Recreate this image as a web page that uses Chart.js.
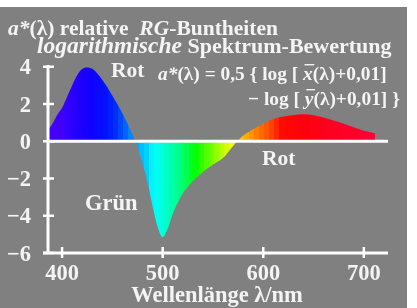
<!DOCTYPE html>
<html>
<head>
<meta charset="utf-8">
<script src="https://cdn.jsdelivr.net/npm/chart.js@4"></script>
<style>
  html, body { margin: 0; padding: 0; background: #fff; }
  canvas { display: block; }
</style>
</head>
<body>
<canvas id="c" width="417" height="308"></canvas>
<script>
// wavelength (nm) and a*(lambda)
const lambda = [386, 390, 395, 400, 405, 410, 415, 420, 425, 430, 435, 440, 445, 450, 455, 460, 465, 470, 475,
  480, 485, 490, 495, 500, 505, 510, 515, 520, 530, 540, 550, 560, 570, 580, 590, 600, 610, 620, 630, 640,
  650, 660, 670, 680, 690, 700, 711];
const aStar = [0.6, 0.9, 1.4, 1.8, 2.4, 3.0, 3.55, 3.88, 3.97, 3.9, 3.65, 3.3, 2.9, 2.45, 2.0, 1.5, 0.97, 0.35, -0.3,
  -1.2, -2.2, -3.5, -4.6, -5.15, -4.7, -3.9, -3.3, -2.8, -2.15, -1.65, -1.25, -0.9, -0.25, 0.3, 0.65, 0.95, 1.2,
  1.33, 1.42, 1.45, 1.4, 1.28, 1.12, 0.95, 0.75, 0.57, 0.43];
const xTicks = [400, 500, 600, 700];
const yTicks = [4, 2, 0, -2, -4, -6];
const yTickLabels = ["4", "2", "0", "\u22122", "\u22124", "\u22126"];

// spectral colours used for the stripes of the fill
const specNm = [380, 400, 415, 430, 445, 455, 465, 475, 485, 490, 497, 505, 515, 525, 532, 545, 560, 568, 573, 580,
  590, 600, 610, 618, 640, 670, 725];
const specRgb = [[75,0,255],[62,0,255],[35,0,255],[15,0,255],[0,20,255],[0,50,255],[0,110,255],[0,175,255],[0,215,255],
  [0,255,255],[0,255,230],[0,255,190],[0,255,140],[0,255,70],[0,255,0],[90,255,0],[190,255,0],[240,255,0],[255,225,0],
  [255,185,0],[255,140,0],[255,100,0],[255,60,0],[255,10,0],[255,0,15],[255,0,35],[255,0,60]];

function specColor(nm){
  let i = 0;
  while(i < specNm.length - 2 && nm > specNm[i+1]) i++;
  let t = Math.max(0, Math.min(1, (nm - specNm[i]) / (specNm[i+1] - specNm[i])));
  let c = specRgb[i].map((v, k)=>Math.round(v + (specRgb[i+1][k] - v) * t));
  return "rgb(" + c.join(",") + ")";
}

function spectrumFill(chart){
  let area = chart.chartArea;
  if(!area) return "#808080";
  let xs = chart.scales.x;
  let g = chart.ctx.createLinearGradient(area.left, 0, area.right, 0);
  let w = area.right - area.left;
  for(let nm = 386; nm < 724; nm += 5){
    let a = (xs.getPixelForValue(nm) - area.left) / w;
    let b = (xs.getPixelForValue(nm + 5) - area.left) / w;
    let col = specColor(nm + 2.5);
    g.addColorStop(Math.max(0, Math.min(1, a)), col);
    g.addColorStop(Math.max(0, Math.min(1, b)), col);
  }
  return g;
}

const SERIF = '"Liberation Serif", "Times New Roman", serif';
const TXT = "#f4f4f4";

function runs(ctx, x, y, parts){
  parts.forEach((p)=>{
    ctx.font = p.f;
    ctx.fillText(p.t, x, y);
    let w = ctx.measureText(p.t).width;
    if(p.bar){
      ctx.fillRect(x + 1.5, y - 16, w, 1.4);
    }
    x += w;
  });
}

const backdrop = {
  id: "backdrop",
  beforeDraw(chart){
    let ctx = chart.ctx;
    ctx.save();
    ctx.fillStyle = "#ffffff";
    ctx.fillRect(0, 0, chart.width, chart.height);
    ctx.fillStyle = "#808080";
    ctx.fillRect(0, 7, 407, 301);
    ctx.restore();
  }
};

const decor = {
  id: "decor",
  afterDatasetsDraw(chart){
    let ctx = chart.ctx, xs = chart.scales.x, ys = chart.scales.y;
    let area = chart.chartArea;
    ctx.save();
    ctx.strokeStyle = "#ffffff";
    ctx.lineWidth = 3;
    ctx.beginPath();
    // zero line
    ctx.moveTo(area.left, ys.getPixelForValue(0));
    ctx.lineTo(area.right, ys.getPixelForValue(0));
    // axes
    ctx.moveTo(area.left, area.top);
    ctx.lineTo(area.left, area.bottom);
    ctx.moveTo(area.left - 5, area.bottom);
    ctx.lineTo(area.right, area.bottom);
    ctx.stroke();
    ctx.lineWidth = 2.5;
    ctx.beginPath();
    yTicks.forEach((v)=>{
      let py = ys.getPixelForValue(v);
      ctx.moveTo(area.left - 5, py);
      ctx.lineTo(area.left + 6, py);
    });
    xTicks.forEach((v)=>{
      let px = xs.getPixelForValue(v);
      ctx.moveTo(px, area.bottom - 6);
      ctx.lineTo(px, area.bottom + 5);
    });
    ctx.stroke();

    ctx.fillStyle = TXT;
    ctx.font = "bold 22.5px " + SERIF;
    ctx.textAlign = "right";
    yTicks.forEach((v, i)=>{
      ctx.fillText(yTickLabels[i], 31, ys.getPixelForValue(v) + 7.5);
    });
    ctx.textAlign = "center";
    xTicks.forEach((v)=>{
      ctx.fillText(String(v), xs.getPixelForValue(v), 280);
    });
    ctx.fillText("Wellenl\u00e4nge \u03bb/nm", 217, 302);

    ctx.textAlign = "left";
    const B1 = "bold 21.5px " + SERIF, I1 = "italic bold 21.5px " + SERIF;
    const B = "bold 22px " + SERIF, I2 = "italic bold 23.5px " + SERIF;
    runs(ctx, 8, 35, [{t: "a*", f: I1}, {t: "(\u03bb) relative  ", f: B1}, {t: "RG", f: I1}, {t: "-Buntheiten", f: B1}]);
    runs(ctx, 37, 53, [{t: "logarithmische", f: I2}, {t: " Spektrum-Bewertung", f: B}]);

    ctx.font = "bold 21.5px " + SERIF;
    ctx.fillText("Rot", 111, 77);
    ctx.fillText("Rot", 262, 165);
    ctx.font = "bold 22.5px " + SERIF;
    ctx.fillText("Gr\u00fcn", 85, 210);

    const b = "bold 19.4px " + SERIF, i = "italic bold 19.4px " + SERIF;
    runs(ctx, 158, 80, [{t: "a*", f: i}, {t: "(\u03bb) = 0,5 { log [ ", f: b}, {t: "x", f: i, bar: true}, {t: "(\u03bb)+0,01]", f: b}]);
    runs(ctx, 248, 105, [{t: "\u2212 log [ ", f: b}, {t: "y", f: i, bar: true}, {t: "(\u03bb)+0,01] }", f: b}]);
    ctx.restore();
  }
};

new Chart(document.getElementById("c"), {
  type: "line",
  data: {
    datasets: [{
      data: lambda.map((x, k)=>({x: x, y: aStar[k]})),
      fill: "origin",
      backgroundColor: (c)=>spectrumFill(c.chart),
      borderWidth: 0,
      pointRadius: 0,
      cubicInterpolationMode: "monotone"
    }]
  },
  options: {
    responsive: false,
    animation: false,
    devicePixelRatio: 1,
    layout: {padding: {left: 48, top: 65, right: 29, bottom: 55}},
    scales: {
      x: {type: "linear", min: 386, max: 724, display: false},
      y: {min: -6, max: 4.1, display: false}
    },
    plugins: {legend: {display: false}, tooltip: {enabled: false}}
  },
  plugins: [backdrop, decor]
});
</script>
</body>
</html>
